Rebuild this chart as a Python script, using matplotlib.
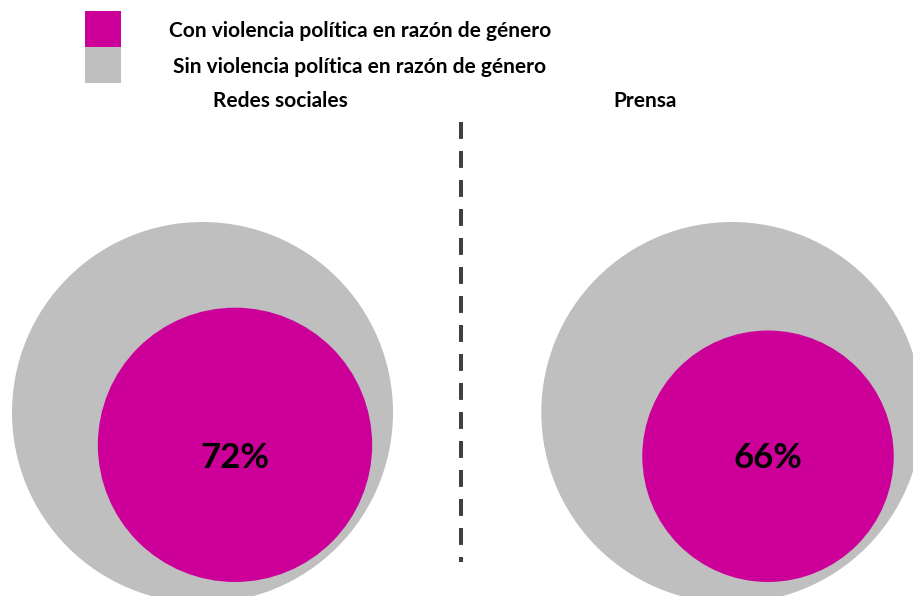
import matplotlib
matplotlib.use("Agg")
import matplotlib.pyplot as plt
from matplotlib.patches import Circle, Rectangle

# Share of content with gender-based political violence, by media type
categories = ["Redes sociales", "Prensa"]
values = [72, 66]  # percent
legend_labels = ["Con violencia política en razón de género",
                 "Sin violencia política en razón de género"]

MAGENTA = "#CC0099"
GRAY = "#BFBFBF"
DARK = "#404040"

plt.rcParams["font.family"] = ["Lato", "DejaVu Sans"]

W, H = 913, 596
fig = plt.figure(figsize=(W / 100, H / 100), dpi=100)
ax = fig.add_axes([0, 0, 1, 1])
ax.set_xlim(0, W)
ax.set_ylim(H, 0)
ax.set_aspect("equal")
ax.axis("off")

# layout (pixel space)
outer_r = 190.5          # radius of the 100 % circle
outer_cx = [202.5, 731.8]
outer_cy = 412.5
inner_cx = [235, 768]
inner_bottom = 582
label_y = 458
title_x = [280, 645]

for i, (cat, v) in enumerate(zip(categories, values)):
    ax.add_patch(Circle((outer_cx[i], outer_cy), outer_r, color=GRAY, lw=0))
    r = outer_r * v / 100
    ax.add_patch(Circle((inner_cx[i], inner_bottom - r), r, color=MAGENTA, lw=0))
    ax.text(inner_cx[i], label_y, f"{v}%", ha="center", va="center",
            fontsize=25, fontweight="bold", color="black")
    ax.text(title_x[i], 101, cat, ha="center", va="center",
            fontsize=15, fontweight="bold", color="black")

# divider
ax.plot([461, 461], [122, 562], color=DARK, lw=2.9,
        linestyle=(0, (4.2, 3.0)), solid_capstyle="butt", dash_capstyle="butt")

# legend
ax.add_patch(Rectangle((85, 11), 36, 36, color=MAGENTA, lw=0))
ax.add_patch(Rectangle((85, 47), 36, 36, color=GRAY, lw=0))
ax.text(360, 31, legend_labels[0], ha="center", va="center",
        fontsize=15, fontweight="bold", color="black")
ax.text(360, 67, legend_labels[1], ha="center", va="center",
        fontsize=15, fontweight="bold", color="black")

fig.savefig("out.png", dpi=100, facecolor="white")
